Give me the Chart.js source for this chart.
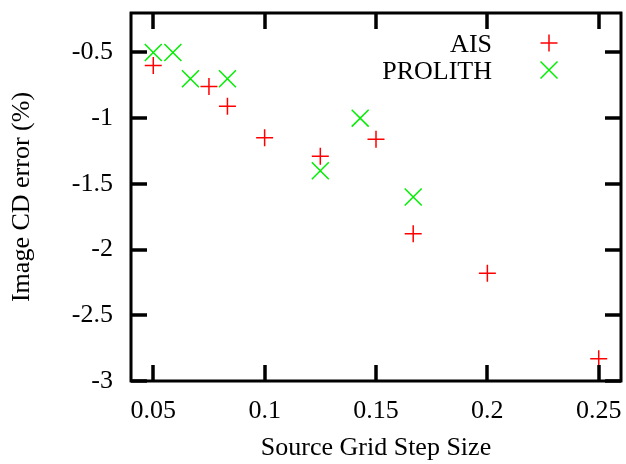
<!DOCTYPE html>
<html>
<head>
<meta charset="utf-8">
<script src="https://cdn.jsdelivr.net/npm/chart.js@4/dist/chart.umd.min.js"></script>
<style>
html,body{margin:0;padding:0;background:#fff;}
canvas{display:block;}
</style>
</head>
<body>
<canvas id="c" width="626" height="464"></canvas>
<script>
const aisX = [0.05, 0.075, 0.0833, 0.1, 0.125, 0.15, 0.1667, 0.2, 0.25];
const aisY = [-0.6, -0.76, -0.91, -1.15, -1.29, -1.16, -1.88, -2.18, -2.83];
const prolithX = [0.05, 0.0588, 0.0667, 0.0833, 0.125, 0.1429, 0.1667];
const prolithY = [-0.5, -0.5, -0.7, -0.7, -1.4, -1.0, -1.6];
const xTicks = [0.05, 0.1, 0.15, 0.2, 0.25];
const yTicks = [-3, -2.5, -2, -1.5, -1, -0.5];
const seriesNames = ['AIS', 'PROLITH'];
const xTitle = 'Source Grid Step Size';
const yTitle = 'Image CD error (%)';

const RED = '#ff0000';
const GREEN = '#00ee00';
const FONT = {family: '"Liberation Serif", "Times New Roman", serif', size: 26};

function drawFrame(chart) {
  const {ctx, chartArea: a, scales} = chart;
  const tl = 16, lw = 3;
  ctx.save();
  ctx.fillStyle = '#000';
  for (let i = 0; i < xTicks.length; i++) {
    const x = Math.round(scales.x.getPixelForValue(xTicks[i]));
    ctx.fillRect(x - 1.5, a.bottom - tl, lw, tl);
    ctx.fillRect(x - 1.5, a.top, lw, tl);
  }
  for (let i = 0; i < yTicks.length; i++) {
    const y = Math.round(scales.y.getPixelForValue(yTicks[i]));
    ctx.fillRect(a.left, y - 1.5, tl, lw);
    ctx.fillRect(a.right - tl, y - 1.5, tl, lw);
  }
  ctx.strokeStyle = '#000';
  ctx.lineWidth = 2.6;
  ctx.strokeRect(a.left, a.top, a.right - a.left, a.bottom - a.top);
  ctx.restore();
}

const framePlugin = {
  id: 'frame',
  beforeDatasetsDraw(chart) { drawFrame(chart); },
  afterDraw(chart) {
    drawFrame(chart);
    const ctx = chart.ctx;
    ctx.save();
    ctx.fillStyle = '#000';
    ctx.font = '26px "Liberation Serif", "Times New Roman", serif';
    ctx.textAlign = 'right';
    ctx.textBaseline = 'alphabetic';
    ctx.fillText(seriesNames[0], 492, 52);
    ctx.fillText(seriesNames[1], 492, 79);
    ctx.lineWidth = 1.5;
    const mx = 549, r = 8.5;
    ctx.strokeStyle = RED;
    ctx.beginPath();
    ctx.moveTo(mx - r, 43); ctx.lineTo(mx + r, 43);
    ctx.moveTo(mx, 43 - r); ctx.lineTo(mx, 43 + r);
    ctx.stroke();
    ctx.strokeStyle = GREEN;
    ctx.beginPath();
    ctx.moveTo(mx - r, 70 - r); ctx.lineTo(mx + r, 70 + r);
    ctx.moveTo(mx - r, 70 + r); ctx.lineTo(mx + r, 70 - r);
    ctx.stroke();
    ctx.restore();
  }
};

new Chart(document.getElementById('c'), {
  type: 'scatter',
  data: {
    datasets: [
      {
        label: seriesNames[0],
        data: aisX.map((x, i) => ({x, y: aisY[i]})),
        pointStyle: 'cross',
        pointRadius: 8.5,
        pointBorderWidth: 1.5,
        borderColor: RED,
        backgroundColor: RED
      },
      {
        label: seriesNames[1],
        data: prolithX.map((x, i) => ({x, y: prolithY[i]})),
        pointStyle: 'crossRot',
        pointRadius: 12,
        pointBorderWidth: 1.5,
        borderColor: GREEN,
        backgroundColor: GREEN
      }
    ]
  },
  options: {
    responsive: false,
    animation: false,
    devicePixelRatio: 1,
    layout: {autoPadding: false, padding: {top: 13, right: 5, left: 0, bottom: 0}},
    plugins: {legend: {display: false}, tooltip: {enabled: false}},
    scales: {
      x: {
        type: 'linear',
        min: 0.04,
        max: 0.26,
        grid: {display: false, drawTicks: false},
        border: {display: false},
        afterBuildTicks: s => { s.ticks = xTicks.map(v => ({value: v})); },
        afterFit: s => { s.height = 83; s.paddingLeft = 0; s.paddingRight = 0; },
        ticks: {color: '#000', font: FONT, padding: 15, maxRotation: 0, autoSkip: false, callback: v => String(v)},
        title: {display: true, text: xTitle, color: '#000', font: FONT, padding: {top: 0, bottom: 0}}
      },
      y: {
        type: 'linear',
        min: -3,
        max: -0.2,
        grid: {display: false, drawTicks: false},
        border: {display: false},
        afterBuildTicks: s => { s.ticks = yTicks.map(v => ({value: v})); },
        afterFit: s => { s.width = 131; s.paddingTop = 0; s.paddingBottom = 0; },
        ticks: {color: '#000', font: FONT, padding: 18, autoSkip: false, callback: v => String(v)},
        title: {display: true, text: yTitle, color: '#000', font: FONT, padding: {top: 7, bottom: 0}}
      }
    }
  },
  plugins: [framePlugin]
});
</script>
</body>
</html>
